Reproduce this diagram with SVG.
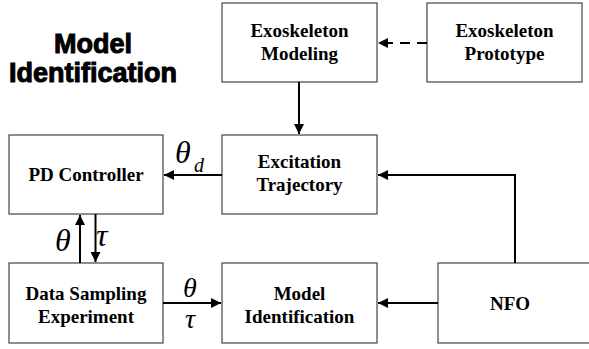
<svg xmlns="http://www.w3.org/2000/svg" width="589" height="349" viewBox="0 0 589 349">
<style>
.box{fill:#fff;stroke:#444;stroke-width:1.2}
.lbl{font-family:"Liberation Serif","Times New Roman",serif;font-weight:bold;font-size:19px;text-anchor:middle;fill:#000}
.sym{font-family:"Liberation Serif","Times New Roman",serif;font-style:italic;font-size:32px;fill:#000}
.ln{stroke:#000;stroke-width:2;fill:none}
.title{font-family:"Liberation Sans",Arial,sans-serif;font-weight:bold;font-size:27px;text-anchor:middle;fill:#000;stroke:#000;stroke-width:1}
</style>
<defs>
<marker id="ah" viewBox="0 0 10 10" refX="10" refY="5" markerWidth="5" markerHeight="5" orient="auto" markerUnits="strokeWidth">
<path d="M0,0 L10,5 L0,10 Z" fill="#000"/>
</marker>
</defs>
<rect width="589" height="349" fill="#fff"/>
<g id="title">
<text class="title" x="93" y="53">Model</text>
<text class="title" x="93" y="82">Identification</text>
</g>
<g id="modeling"><rect class="box" x="222" y="3" width="155" height="79"/>
<text class="lbl" x="299.5" y="37">Exoskeleton</text><text class="lbl" x="299.5" y="60">Modeling</text></g>
<g id="prototype"><rect class="box" x="427" y="3" width="155" height="79"/>
<text class="lbl" x="504.5" y="37">Exoskeleton</text><text class="lbl" x="504.5" y="60">Prototype</text></g>
<g id="excitation"><rect class="box" x="222" y="135" width="155" height="79"/>
<text class="lbl" x="299.5" y="168">Excitation</text><text class="lbl" x="299.5" y="191">Trajectory</text></g>
<g id="pd"><rect class="box" x="9" y="135" width="154" height="79"/>
<text class="lbl" x="86" y="181">PD Controller</text></g>
<g id="datasampling"><rect class="box" x="9" y="263" width="154" height="80"/>
<text class="lbl" x="86" y="300">Data Sampling</text><text class="lbl" x="86" y="323">Experiment</text></g>
<g id="modelid"><rect class="box" x="222" y="263" width="155" height="80"/>
<text class="lbl" x="299.5" y="300">Model</text><text class="lbl" x="299.5" y="323">Identification</text></g>
<g id="nfo"><rect class="box" x="438" y="263" width="160" height="80"/>
<text class="lbl" x="510" y="310">NFO</text></g>
<g id="connectors">
<line class="ln" x1="427" y1="43" x2="378" y2="43" stroke-dasharray="10,7" marker-end="url(#ah)"/>
<line class="ln" x1="299" y1="82" x2="299" y2="134" marker-end="url(#ah)"/>
<line class="ln" x1="222" y1="175" x2="164" y2="175" marker-end="url(#ah)"/>
<polyline class="ln" points="515,263 515,175 378,175" marker-end="url(#ah)"/>
<line class="ln" x1="80" y1="263" x2="80" y2="215" marker-end="url(#ah)"/>
<line class="ln" x1="95.5" y1="214" x2="95.5" y2="262" marker-end="url(#ah)"/>
<line class="ln" x1="163" y1="303" x2="221" y2="303" marker-end="url(#ah)"/>
<line class="ln" x1="438" y1="303" x2="378" y2="303" marker-end="url(#ah)"/>
</g>
<g id="labels">
<text class="sym" x="175" y="163">θ</text><text class="sym" x="194" y="172" style="font-size:20px">d</text>
<text class="sym" x="55" y="251">θ</text>
<text class="sym" x="96" y="246">τ</text>
<text class="sym" x="183" y="297" style="font-size:28px">θ</text>
<text class="sym" x="185" y="328" style="font-size:28px">τ</text>
</g>
</svg>
